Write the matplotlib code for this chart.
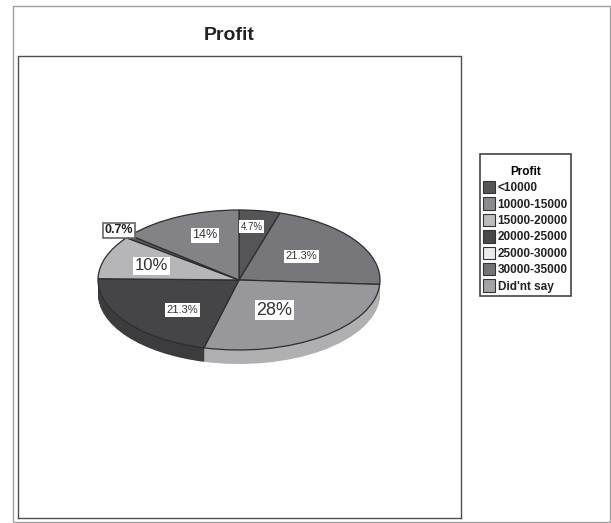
import matplotlib
matplotlib.use('Agg')
import matplotlib.pyplot as plt
from matplotlib.patches import Patch, Rectangle

plt.rcParams['font.family'] = ['Liberation Sans', 'DejaVu Sans']

# slices clockwise from the top, as they sit in the picture
slice_values = [4.7, 21.3, 28, 21.3, 10, 0.7, 14]
slice_labels = ['4.7%', '21.3%', '28%', '21.3%', '10%', '0.7%', '14%']
top_colors = ['#555558', '#77777b', '#98989c', '#454548', '#b6b6b8', '#59595c', '#838387']
wall_colors = ['#444446', '#4a4a4c', '#b0b0b3', '#3c3c3e', '#8a8a8c', '#444446', '#666668']
label_x = [0.09, 0.44, 0.25, -0.40, -0.62, -0.85, -0.24]
label_y = [0.76, 0.34, -0.43, -0.43, 0.20, 0.71, 0.64]
label_size = [7, 8, 13, 8, 12, 9, 9]

legend_names = ['<10000', '10000-15000', '15000-20000', '20000-25000',
                '25000-30000', '30000-35000', "Did'nt say"]
legend_colors = ['#555558', '#8b8b8f', '#bcbcbe', '#48484b', '#ececec', '#747478', '#a4a4a8']

fig = plt.figure(figsize=(6.11, 5.23), dpi=100)
W, H = 611, 523

# outer frame
fig.add_artist(Rectangle((12.5 / W, 1 - 522 / H), 597.5 / W, 516.5 / H, fill=False,
                         edgecolor='#a0a0a0', linewidth=1.0, transform=fig.transFigure))

ax = fig.add_axes([18 / W, 1 - 518 / H, 443 / W, 461.5 / H])

# side wall: the same pie stacked downwards
depth = 0.2
for i in range(20, 0, -1):
    ax.pie(slice_values, colors=wall_colors, startangle=90, counterclock=False,
           center=(0, -depth * i / 20), wedgeprops={'linewidth': 0})

ax.pie(slice_values, colors=top_colors, startangle=90, counterclock=False,
       wedgeprops={'edgecolor': '#2e2e30', 'linewidth': 0.9})

ax.set_aspect('auto')
ax.set_xlim(-221 / 141, 222 / 141)
ax.set_ylim(-238 / 70, 223.5 / 70)
ax.set_xticks([])
ax.set_yticks([])
ax.set_frame_on(True)
for spine in ax.spines.values():
    spine.set_visible(True)
    spine.set_color('#505050')
    spine.set_linewidth(1.0)

for i, text in enumerate(slice_labels):
    boxed = text == '0.7%'
    ax.text(label_x[i], label_y[i], text, fontsize=label_size[i], ha='center', va='center',
            color='#333333' if not boxed else '#222222',
            fontweight='bold' if boxed else 'normal',
            bbox={'facecolor': 'white', 'edgecolor': '#666666' if boxed else 'none',
                  'linewidth': 1.2, 'pad': 1.2})

fig.text(229.5 / W, 1 - 35 / H, 'Profit', fontsize=14, fontweight='bold',
         ha='center', va='center', color='#222222')

handles = [Patch(facecolor=c, edgecolor='#333333', linewidth=0.8) for c in legend_colors]
leg = fig.legend(handles, legend_names, title='\nProfit', loc='upper left',
                 bbox_to_anchor=(480 / W, 1 - 154 / H), fancybox=False, framealpha=1,
                 edgecolor='#444444', prop={'size': 8.5, 'weight': 'bold'},
                 title_fontproperties={'size': 8.5, 'weight': 'bold'},
                 handlelength=1.0, handleheight=1.25, handletextpad=0.25,
                 labelspacing=0.27, borderpad=0.25, borderaxespad=0)
leg.get_frame().set_linewidth(1.2)
leg.get_title().set_linespacing(0.65)
for t in leg.get_texts():
    t.set_color('#222222')

fig.savefig('out.png', dpi=100)
